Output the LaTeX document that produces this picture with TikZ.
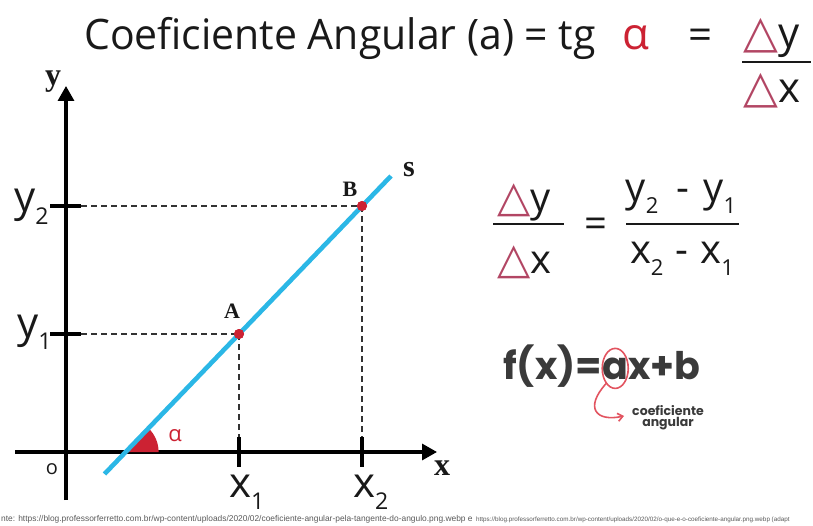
\documentclass[tikz,border=0pt]{standalone}
\usepackage{fontspec}
\setmainfont{Open Sans}
\newfontfamily\popfont{Poppins}
\newfontfamily\lserif{Liberation Serif}
\newfontfamily\lsans{Liberation Sans}
\newfontfamily\djv{DejaVu Sans}
\usetikzlibrary{arrows.meta,calc}
\definecolor{lblue}{RGB}{43,183,230}
\definecolor{dred}{RGB}{204,34,51}
\definecolor{dpink}{RGB}{178,70,100}
\definecolor{txt}{RGB}{25,25,25}
\definecolor{fgray}{RGB}{58,58,58}
\definecolor{coral}{RGB}{226,84,96}
\newcommand\lowsub[1]{\raisebox{-0.3em}{\scalebox{0.55}{#1}}}
\newcommand\dtri{{\djv\color{dpink}\scalebox{1.08}{△}}}
\begin{document}
\begin{tikzpicture}[x=1pt,y=-1pt,
  axisline/.style={line width=3.2pt, draw=black, -{Triangle[length=15pt,width=16pt]}},
  tickline/.style={line width=3.2pt, draw=black},
  guide/.style={dash pattern=on 6pt off 4pt, line width=1.8pt, draw=black!80},
  ptdot/.style={circle, fill=dred, inner sep=0pt, minimum size=10pt},
  bigtxt/.style={font=\fontsize{42}{42}\selectfont, inner sep=0pt, text=txt},
  eqtxt/.style={font=\fontsize{40}{40}\selectfont, inner sep=0pt, text=txt},
  titletxt/.style={font=\fontsize{42}{42}\selectfont, inner sep=0pt, text=txt},
  serlbl/.style={font=\lserif\bfseries\fontsize{32}{32}\selectfont, inner sep=0pt, text=txt},
  ptlbl/.style={font=\lserif\bfseries\fontsize{22}{22}\selectfont, inner sep=0pt, text=txt},
  fracline/.style={line width=2.4pt, draw=txt},
  fxtxt/.style={font=\popfont\bfseries\fontsize{38}{38}\selectfont, inner sep=0pt, text=fgray},
  srctxt/.style={font=\lsans\fontsize{8.4}{8.4}\selectfont, inner sep=0pt, text=black!65}
]
\useasboundingbox (0,0) rectangle (813,526);
\clip (0,0) rectangle (813,526);

% ---------- title ----------
\node[titletxt, anchor=base west] (title) at (84,50) {\scalebox{0.975}[1]{Coeficiente Angular (a) = tg}};
\node[titletxt, anchor=base west, text=dred, font=\fontsize{44}{44}\selectfont] (talpha) at (622,50) {α};
\node[titletxt, anchor=base west] (teq) at (688,50) {=};
\node[titletxt, anchor=base west] (tdy) at (743,48) {\dtri y};
\node[titletxt, anchor=base west] (tdx) at (743,103) {\dtri x};
\coordinate (tl1) at (742,62);
\coordinate (tl2) at (811,62);
\draw[fracline] (tl1) -- (tl2);

% ---------- axes ----------
\coordinate (xs) at (15,452);
\coordinate (xe) at (437,452);
\coordinate (ys) at (66,500);
\coordinate (ye) at (66,86);
\draw[axisline] (xs) -- (xe);
\draw[axisline] (ys) -- (ye);

% ticks
\coordinate (ty2a) at (50,206); \coordinate (ty2b) at (81,206);
\coordinate (ty1a) at (50,334); \coordinate (ty1b) at (81,334);
\coordinate (tx1a) at (239,437); \coordinate (tx1b) at (239,467);
\coordinate (tx2a) at (362,437); \coordinate (tx2b) at (362,467);
\draw[tickline] (ty2a) -- (ty2b);
\draw[tickline] (ty1a) -- (ty1b);
\draw[tickline] (tx1a) -- (tx1b);
\draw[tickline] (tx2a) -- (tx2b);

% angle sector
\coordinate (V) at (125.6,452);
\fill[dred] (V) -- ++(33,0) arc[start angle=0, end angle=-46.1, radius=33] -- cycle;

% line s
\coordinate (S0) at (104.5,474);
\coordinate (S1) at (391,176);
\draw[lblue, line width=4.6pt] (S0) -- (S1);

% points
\node[ptdot] (A) at (239,334) {};
\node[ptdot] (B) at (362,206) {};

% guides
\draw[guide] (ty1b) -- (A.center);
\draw[guide] (ty2b) -- (B.center);
\draw[guide] (A.center) -- (tx1a);
\draw[guide] (B.center) -- (tx2a);
\node[ptdot] at (A) {};
\node[ptdot] at (B) {};

% labels
\node[serlbl] (ylab) at (53,82) {y};
\node[serlbl] (xlab) at (442,468) {x};
\node[serlbl, font=\lserif\bfseries\fontsize{30}{30}\selectfont] (slab) at (409,170) {s};
\node[ptlbl] (Alab) at (232,311) {A};
\node[ptlbl] (Blab) at (350,189) {B};
\node[font=\fontsize{22}{22}\selectfont, text=dred, inner sep=0pt] (alab) at (175,436) {α};
\node[font=\fontsize{20}{20}\selectfont, text=txt, inner sep=0pt] (olab) at (52,469) {o};

\node[bigtxt, anchor=base west] (y2lab) at (14,212) {y\lowsub{2}};
\node[bigtxt, anchor=base west] (y1lab) at (17,337) {y\lowsub{1}};
\node[bigtxt, anchor=base west] (x1lab) at (229,497) {x\lowsub{1}};
\node[bigtxt, anchor=base west] (x2lab) at (353,497) {x\lowsub{2}};

% ---------- right: delta fraction ----------
\node[eqtxt, anchor=base west] (dy) at (497,212) {\dtri y};
\node[eqtxt, anchor=base west] (dx) at (497,274) {\dtri x};
\coordinate (fl1) at (493,224); \coordinate (fl2) at (564,224);
\draw[fracline] (fl1) -- (fl2);
\node[eqtxt, anchor=base] (eq) at (596,238) {=};
\node[eqtxt, anchor=base] (num) at (681,202) {y\lowsub{2}\hspace{0.45em}-\hspace{0.35em}y\lowsub{1}};
\node[eqtxt, anchor=base] (den) at (682,264) {x\lowsub{2}\hspace{0.3em}-\hspace{0.3em}x\lowsub{1}};
\coordinate (fr1) at (626,224); \coordinate (fr2) at (739,224);
\draw[fracline] (fr1) -- (fr2);

% ---------- f(x) = ax + b ----------
\node[fxtxt, anchor=base west] (f1) at (503,379) {f(x)=};
\node[fxtxt, anchor=base west] (fa) at (f1.base east) {a};
\node[fxtxt, anchor=base west] (fb) at (fa.base east) {x+b};
\draw[coral, line width=1.6pt] (fa.center) ellipse[x radius=13, y radius=20];
\coordinate (tailst) at ($(fa.center)+(-9,15)$);
\coordinate (tailend) at (624,416);
\draw[coral, line width=1.6pt, -{Straight Barb[length=5pt,width=8pt]}] (tailst) .. controls (584,408) and (596,422) .. (tailend);
\node[font=\popfont\bfseries\fontsize{12.5}{11}\selectfont, text=fgray, align=center, inner sep=0pt] (coef) at (668,418) {coeficiente\\angular};

% ---------- source ----------
\node[srctxt, anchor=base west] (src1) at (1,521) {nte: https://blog.professorferretto.com.br/wp-content/uploads/2020/02/coeficiente-angular-pela-tangente-do-angulo.png.webp e};
\node[srctxt, anchor=base west, font=\lsans\fontsize{6.3}{6.3}\selectfont] (src2) at (476,521) {https://blog.professorferretto.com.br/wp-content/uploads/2020/02/o-que-e-o-coeficiente-angular.png.webp (adapt};
\end{tikzpicture}
\end{document}
